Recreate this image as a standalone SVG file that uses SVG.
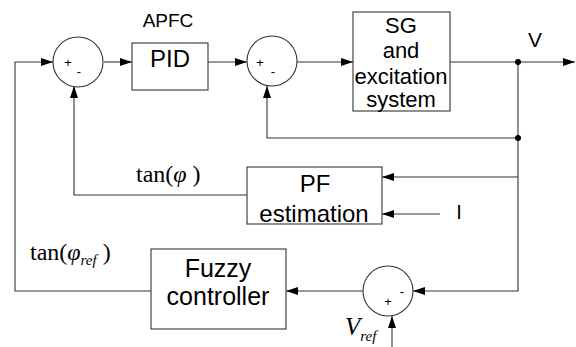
<svg xmlns="http://www.w3.org/2000/svg" width="576" height="347" viewBox="0 0 576 347">
<style>
.ln{fill:none;stroke:#333;stroke-width:1.1}
.bx{fill:#fff;stroke:#333;stroke-width:1.1}
.s{font-family:"Liberation Sans",Arial,sans-serif;fill:#000}
.m{font-family:"Liberation Serif","Times New Roman",serif;fill:#000}
.sg{font-family:"Liberation Sans",Arial,sans-serif;font-size:13px;fill:#000}
</style>
<defs>
<marker id="ar" markerUnits="userSpaceOnUse" markerWidth="13" markerHeight="9" refX="12" refY="4" orient="auto">
<path d="M0,0 L12,4 L0,8 z" fill="#000"/>
</marker>
</defs>
<g id="connectors">
<path class="ln" d="M104,62 H132" marker-end="url(#ar)"/>
<path class="ln" d="M208,62 H247" marker-end="url(#ar)"/>
<path class="ln" d="M297,62 H353" marker-end="url(#ar)"/>
<path class="ln" d="M450,62 H575" marker-end="url(#ar)"/>
<path class="ln" d="M518,62 V138 H267 V86" marker-end="url(#ar)"/>
<path class="ln" d="M518,138 V291 H413" marker-end="url(#ar)"/>
<path class="ln" d="M518,177 H382" marker-end="url(#ar)"/>
<path class="ln" d="M440,214 H382" marker-end="url(#ar)"/>
<path class="ln" d="M247,195 H74 V86" marker-end="url(#ar)"/>
<path class="ln" d="M363,291 H286" marker-end="url(#ar)"/>
<path class="ln" d="M151,291 H15 V62 H53" marker-end="url(#ar)"/>
<path class="ln" d="M392,347 V316" marker-end="url(#ar)"/>
<circle cx="518" cy="62" r="3" fill="#000"/>
<circle cx="518" cy="138" r="3" fill="#000"/>
</g>
<g id="sum1">
<circle class="bx" cx="78" cy="62" r="25"/>
<text class="sg" x="68" y="67" text-anchor="middle">+</text>
<text class="sg" x="79" y="76" text-anchor="middle">-</text>
</g>
<g id="pid">
<text class="s" x="168" y="27" font-size="19" text-anchor="middle">APFC</text>
<rect class="bx" x="132" y="43" width="76" height="47"/>
<text class="s" x="170" y="67" font-size="24" text-anchor="middle">PID</text>
</g>
<g id="sum2">
<circle class="bx" cx="272" cy="61" r="25"/>
<text class="sg" x="260" y="67" text-anchor="middle">+</text>
<text class="sg" x="273" y="76" text-anchor="middle">-</text>
</g>
<g id="sg">
<rect class="bx" x="353" y="12" width="97" height="99"/>
<text class="s" x="401" y="33" font-size="22" text-anchor="middle">SG</text>
<text class="s" x="401" y="58" font-size="22" text-anchor="middle">and</text>
<text class="s" x="401" y="84" font-size="22" text-anchor="middle">excitation</text>
<text class="s" x="401" y="107" font-size="22" text-anchor="middle">system</text>
</g>
<text class="s" x="535" y="47" font-size="21" text-anchor="middle">V</text>
<g id="pf">
<rect class="bx" x="247" y="167" width="135" height="57"/>
<text class="s" x="315" y="192" font-size="24" text-anchor="middle">PF</text>
<text class="s" x="314" y="222" font-size="24" text-anchor="middle">estimation</text>
</g>
<text class="s" x="459" y="219" font-size="20" text-anchor="middle">I</text>
<text class="m" x="136" y="182" font-size="24">tan(<tspan font-style="italic">φ</tspan>   )</text>
<g id="fuzzy">
<rect class="bx" x="151" y="249" width="135" height="80"/>
<text class="s" x="218" y="277" font-size="25" text-anchor="middle">Fuzzy</text>
<text class="s" x="218" y="305" font-size="25" text-anchor="middle">controller</text>
</g>
<text class="m" x="30" y="260" font-size="24">tan(<tspan font-style="italic">φ</tspan><tspan font-style="italic" font-size="15" dy="5">ref</tspan><tspan dy="-5"> )</tspan></text>
<g id="sum3">
<circle class="bx" cx="388" cy="291" r="25"/>
<text class="sg" x="388" y="306" text-anchor="middle">+</text>
<text class="sg" x="402" y="296" text-anchor="middle">-</text>
</g>
<text class="m" x="345" y="335" font-size="25" font-style="italic">V<tspan font-size="15" dy="6">ref</tspan></text>
</svg>
